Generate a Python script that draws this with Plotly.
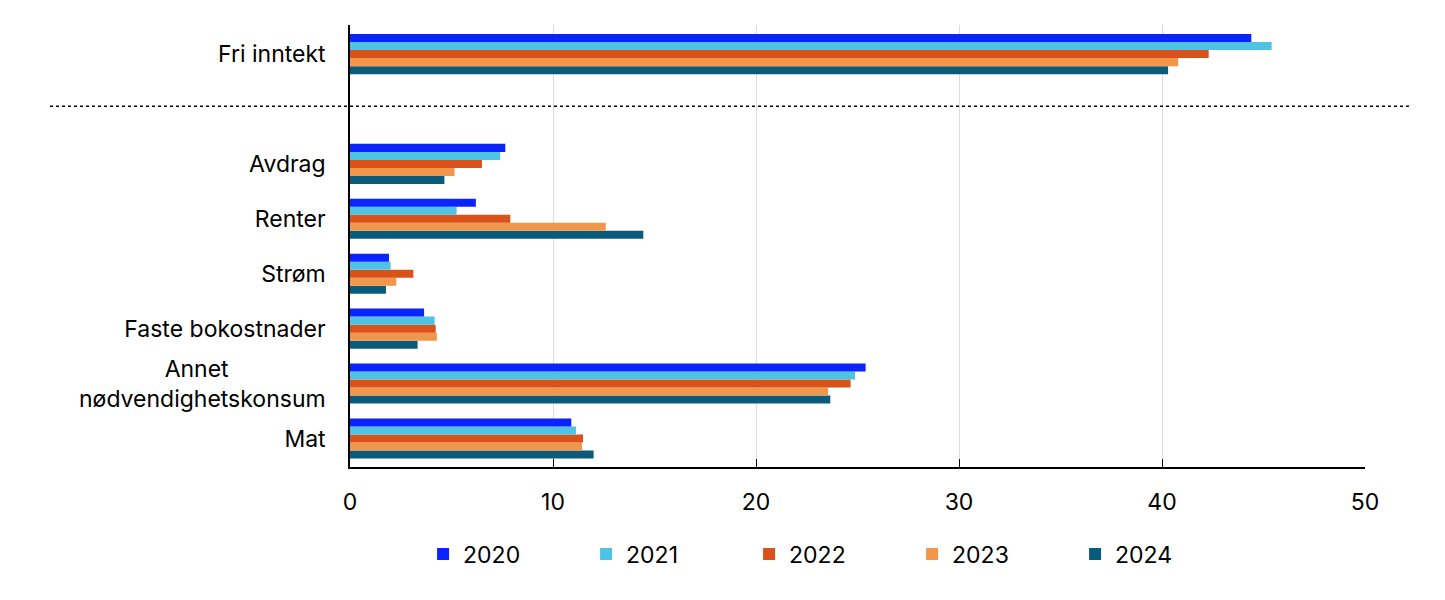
import plotly.graph_objects as go

NB = "\u00a0"
categories = ["Mat", "Annet" + NB * 15 + "<br>nødvendighetskonsum", "Faste bokostnader", "Strøm",
              "Renter", "Avdrag", " ", "Fri inntekt"]
years = ["2020", "2021", "2022", "2023", "2024"]
v2020 = [10.9, 25.4, 3.65, 1.92, 6.2, 7.65, None, 44.4]
v2021 = [11.13, 24.88, 4.17, 2.0, 5.25, 7.4, None, 45.4]
v2022 = [11.48, 24.66, 4.22, 3.12, 7.9, 6.5, None, 42.3]
v2023 = [11.43, 23.55, 4.28, 2.28, 12.6, 5.15, None, 40.8]
v2024 = [12.0, 23.66, 3.33, 1.77, 14.45, 4.65, None, 40.3]
series = [v2020, v2021, v2022, v2023, v2024]
colors = ["#0A23FF", "#4FC3E4", "#D8521A", "#F0974C", "#0A5A7A"]
x_ticks = [0, 10, 20, 30, 40, 50]

fig = go.Figure()
for yr, vals, col in reversed(list(zip(years, series, colors))):
    fig.add_trace(go.Bar(y=categories, x=vals, name=yr, orientation="h",
                         marker=dict(color=col, line=dict(width=0))))

font = "Inter, Roboto, sans-serif"
fig.update_layout(
    width=1445, height=600,
    margin=dict(l=342, r=88, t=17, b=141, autoexpand=False),
    paper_bgcolor="white", plot_bgcolor="white",
    barmode="group", bargap=0.27, bargroupgap=0,
    font=dict(family=font, size=23, color="black"),
    xaxis=dict(range=[0, 50], tickvals=x_ticks, showgrid=True, gridcolor="#dcdcdc",
               gridwidth=1, zeroline=False, showline=True, linecolor="black", linewidth=1.5,
               ticks="inside", ticklen=8, tickcolor="black", tickwidth=1,
               tickfont=dict(size=23), ticklabelstandoff=14, automargin=False,
               fixedrange=True),
    yaxis=dict(type="category", categoryorder="array", categoryarray=categories,
               range=[-0.52, 7.53], showline=True, linecolor="black", linewidth=1.5,
               ticks="", ticklabelstandoff=18, tickfont=dict(size=23), showgrid=False,
               automargin=False, fixedrange=True),
    legend=dict(orientation="h", x=0.072, xanchor="left", y=-0.197, yanchor="middle",
                traceorder="reversed", entrywidth=118, font=dict(size=23),
                itemwidth=30),
    showlegend=True,
    shapes=[dict(type="line", xref="paper", yref="y", x0=-0.2956, x1=1.0443,
                 y0=6.05, y1=6.05, line=dict(color="black", width=1.5, dash="dot"))],
)

fig.write_html("out.html")
